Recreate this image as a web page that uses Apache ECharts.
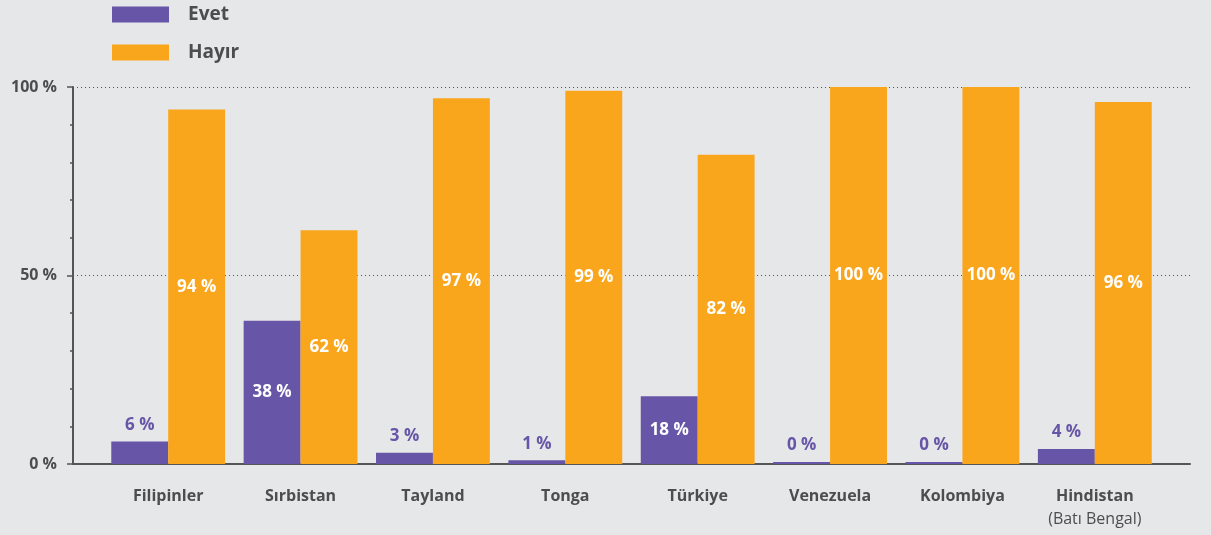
<!DOCTYPE html>
<html>
<head>
<meta charset="utf-8">
<script src="https://cdn.jsdelivr.net/npm/echarts@6/dist/echarts.min.js"></script>
<style>
  html, body { margin: 0; padding: 0; background: #e6e7e8; }
  #main { width: 1211px; height: 535px; }
</style>
</head>
<body>
<div id="main"></div>
<script>
var countries = ['Filipinler', 'Sırbistan', 'Tayland', 'Tonga', 'Türkiye', 'Venezuela', 'Kolombiya', 'Hindistan\n(Batı Bengal)']
var evet = [6, 38, 3, 1, 18, 0, 0, 4]
var hayir = [94, 62, 97, 99, 82, 100, 100, 96]
var seriesNames = ['Evet', 'Hayır']

var font = "'Open Sans', 'Noto Sans', sans-serif"
var grey = '#4d4d4f'
var purple = '#6756a7'
var orange = '#f9a61c'

var chart = echarts.init(document.getElementById('main'))

var evetData = evet.map(function (v) {
  var inside = v >= 10
  return {
    value: v,
    label: {
      position: inside ? 'inside' : 'top',
      color: inside ? '#fff' : purple,
      distance: 8
    }
  }
})

var option = {
  backgroundColor: '#e6e7e8',
  textStyle: { fontFamily: font },
  legend: {
    orient: 'vertical',
    left: 112,
    top: 5,
    padding: 0,
    itemWidth: 57,
    itemHeight: 16,
    itemGap: 19,
    icon: 'rect',
    textStyle: { color: grey, fontSize: 19, fontWeight: 'bold', lineHeight: 16, padding: [0, 0, 0, 14] },
    data: seriesNames
  },
  grid: [
    { left: 73, right: 21, top: 87, bottom: 71 },
    { left: 102, right: 50, top: 87, bottom: 71 }
  ],
  xAxis: [{
    gridIndex: 0,
    type: 'value',
    min: 0,
    max: 1,
    axisLine: { show: true, onZero: false, lineStyle: { color: '#555', width: 2 } },
    axisTick: { show: false },
    axisLabel: { show: false },
    splitLine: { show: false }
  }, {
    gridIndex: 1,
    type: 'category',
    data: countries,
    axisLine: { show: false },
    axisTick: { show: false },
    axisLabel: {
      margin: 22,
      formatter: function (v) {
        var parts = v.split('\n')
        return parts.length > 1 ? '{b|' + parts[0] + '}\n{s|' + parts[1] + '}' : '{b|' + v + '}'
      },
      rich: {
        b: { color: grey, fontSize: 16, fontWeight: 'bold', fontFamily: font, lineHeight: 20 },
        s: { color: grey, fontSize: 16, fontFamily: font, lineHeight: 26 }
      }
    }
  }],
  yAxis: [{
    gridIndex: 0,
    type: 'value',
    min: 0,
    max: 100,
    interval: 50,
    axisLine: { show: true, lineStyle: { color: '#555', width: 2 } },
    axisTick: { show: true, length: 6, lineStyle: { color: '#555', width: 1.5 } },
    minorTick: { show: true, splitNumber: 5, length: 3, lineStyle: { color: '#555', width: 1.5 } },
    axisLabel: {
      color: grey,
      fontSize: 16,
      fontWeight: 'bold',
      margin: 16,
      formatter: '{value} %'
    },
    splitLine: { show: true, lineStyle: { color: '#555', type: [1, 3], width: 1 } }
  }, {
    gridIndex: 1,
    type: 'value',
    min: 0,
    max: 100,
    show: false
  }],
  series: [{
    name: seriesNames[0],
    type: 'bar',
    xAxisIndex: 1,
    yAxisIndex: 1,
    barGap: '0%',
    barCategoryGap: '14%',
    barMinHeight: 2,
    itemStyle: { color: purple },
    label: {
      show: true,
      fontSize: 17,
      fontWeight: 'bold',
      fontFamily: font,
      formatter: '{c} %'
    },
    data: evetData
  }, {
    name: seriesNames[1],
    type: 'bar',
    xAxisIndex: 1,
    yAxisIndex: 1,
    itemStyle: { color: orange },
    label: {
      show: true,
      position: 'inside',
      color: '#fff',
      fontSize: 17,
      fontWeight: 'bold',
      fontFamily: font,
      formatter: '{c} %'
    },
    data: hayir
  }]
}
chart.setOption(option)
</script>
</body>
</html>
